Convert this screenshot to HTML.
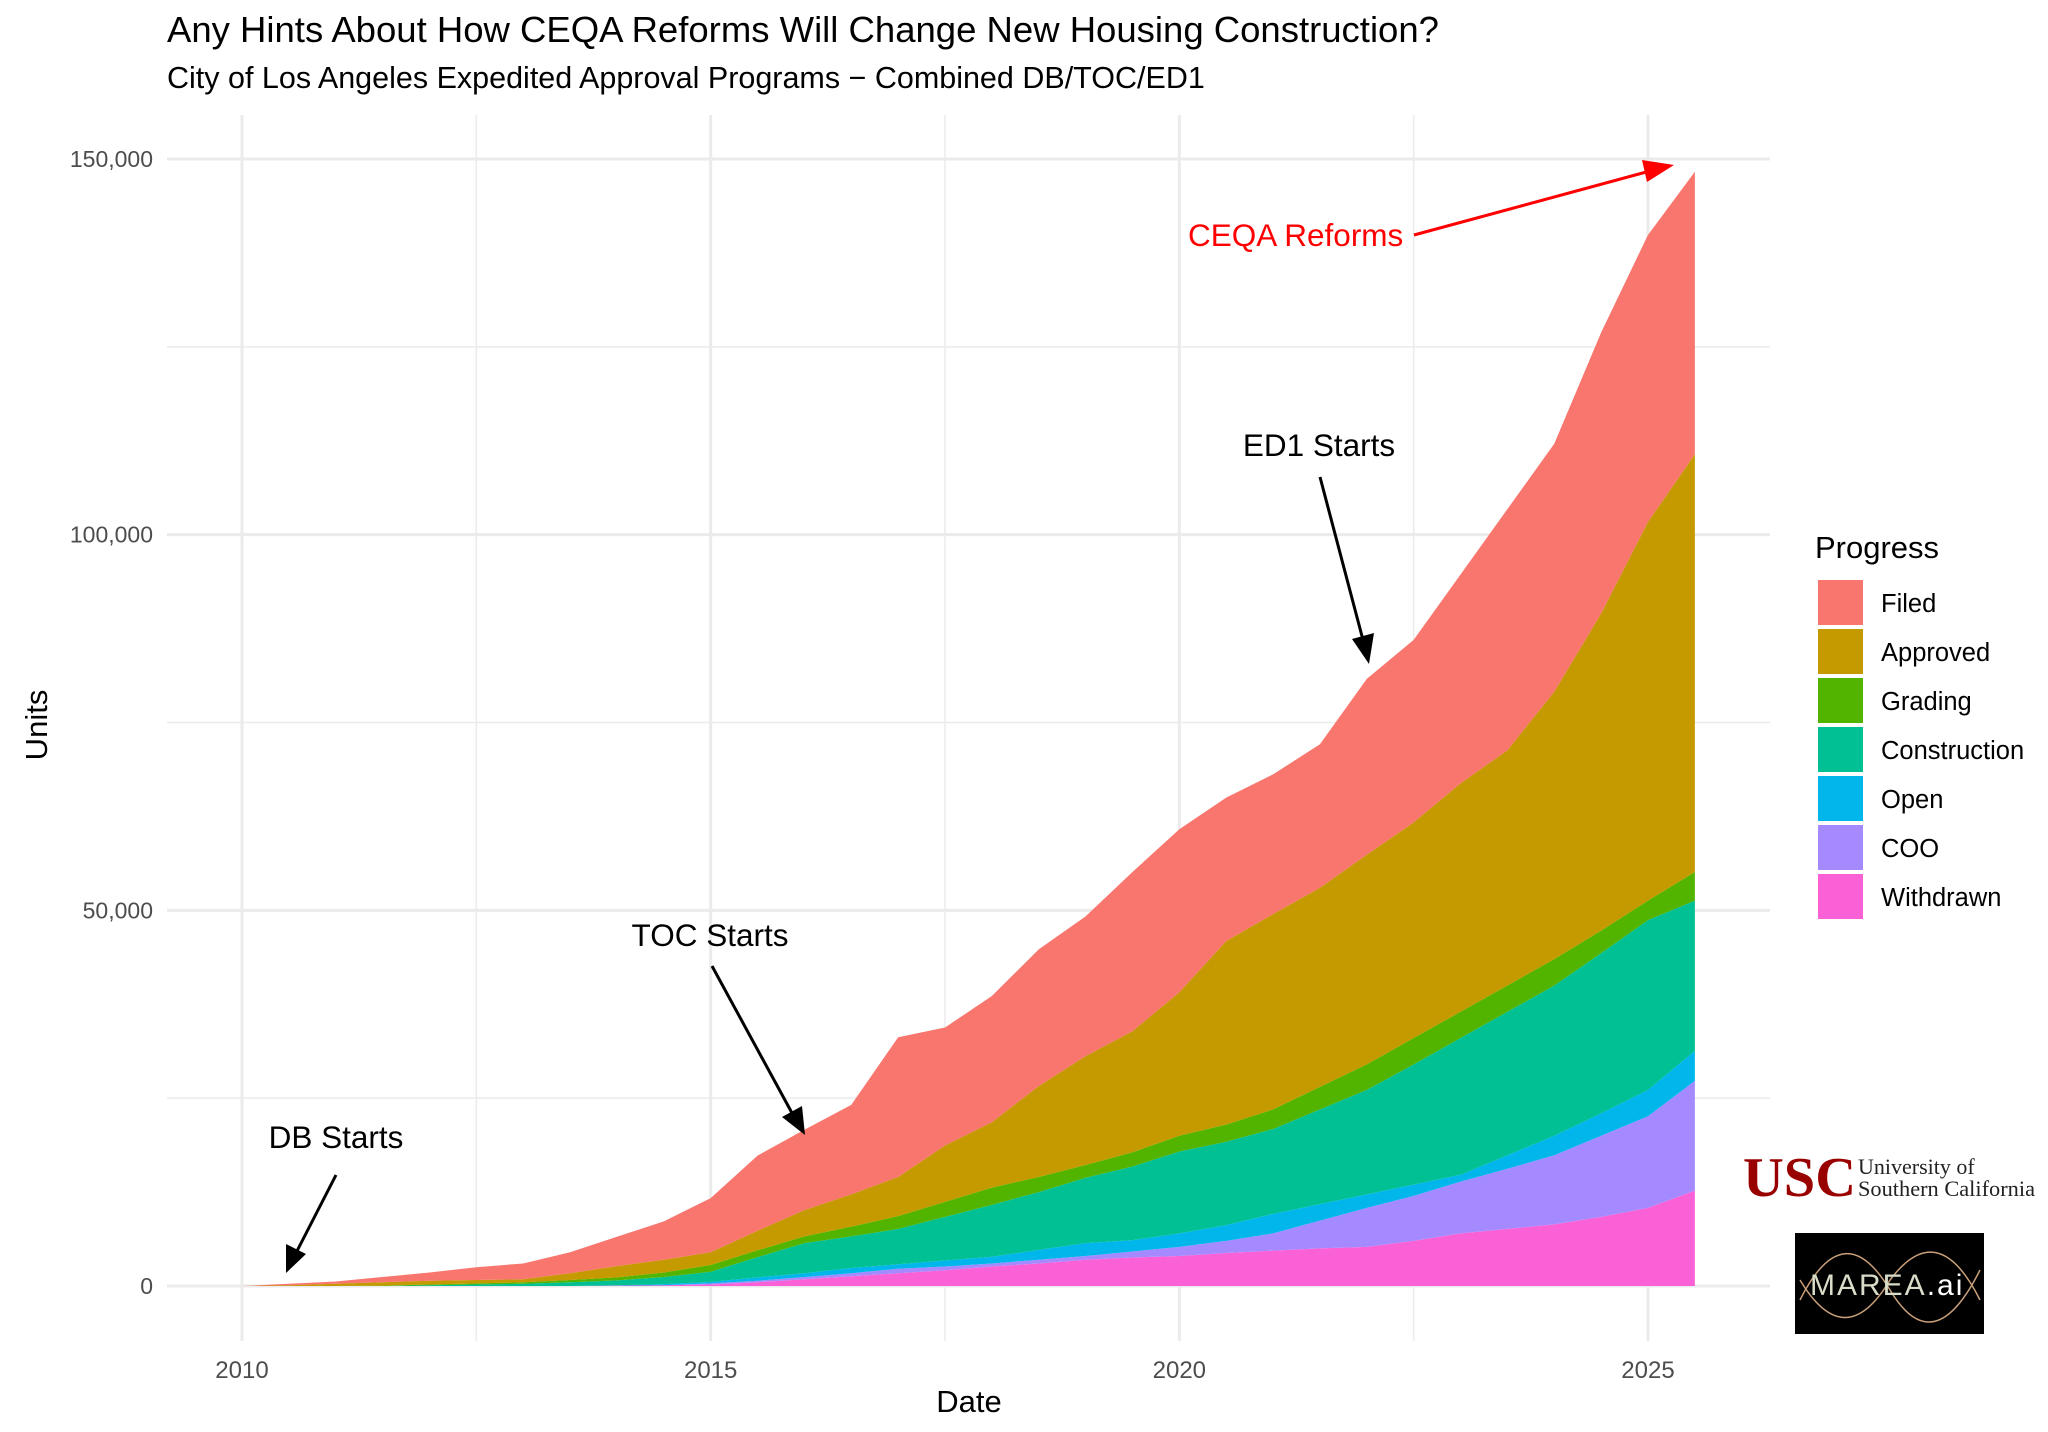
<!DOCTYPE html>
<html><head><meta charset="utf-8"><style>
body{margin:0;background:#fff}
svg text{font-family:"Liberation Sans",Arial,sans-serif}
</style></head><body>
<svg id="chart" width="2048" height="1427" viewBox="0 0 2048 1427" xmlns="http://www.w3.org/2000/svg">
<rect width="2048" height="1427" fill="#fff"/>
<text x="167" y="42" font-size="36.5" fill="#000">Any Hints About How CEQA Reforms Will Change New Housing Construction?</text>
<text x="167" y="88" font-size="30.5" fill="#000">City of Los Angeles Expedited Approval Programs − Combined DB/TOC/ED1</text>
<g id="grid"></g>
<g id="areas"></g>
<g id="axes"></g>
<text x="969" y="1412" font-size="31" text-anchor="middle">Date</text>
<text transform="translate(47,725) rotate(-90)" font-size="31" text-anchor="middle">Units</text>
<g>
<text x="1188" y="246" font-size="31.5" fill="#f00">CEQA Reforms</text>
<line x1="1414" y1="235" x2="1650" y2="171" stroke="#f00" stroke-width="3"/>
<polygon points="1674,165 1647,182 1642,160" fill="#f00"/>
</g>
<g>
<text x="1319" y="456" font-size="31.5" text-anchor="middle">ED1 Starts</text>
<line x1="1320" y1="477" x2="1363" y2="640" stroke="#000" stroke-width="3"/>
<polygon points="1369,664 1352,639 1374,633" fill="#000"/>
</g>
<g>
<text x="710" y="946" font-size="31.5" text-anchor="middle">TOC Starts</text>
<line x1="712" y1="966" x2="792" y2="1113" stroke="#000" stroke-width="3"/>
<polygon points="805,1135 782,1117 802,1106" fill="#000"/>
</g>
<g>
<text x="336" y="1148" font-size="31.5" text-anchor="middle">DB Starts</text>
<line x1="336" y1="1175" x2="297" y2="1251" stroke="#000" stroke-width="3"/>
<polygon points="286,1273 286,1244 306,1254" fill="#000"/>
</g>
<g id="legend">
<text x="1815" y="558" font-size="31">Progress</text>
</g>
<g>
<text x="1743" y="1196" font-size="56" font-weight="bold" fill="#990000" style="font-family:'Liberation Serif',serif" textLength="113" lengthAdjust="spacingAndGlyphs">USC</text>
<text x="1858" y="1174" font-size="22" fill="#222" style="font-family:'Liberation Serif',serif">University of</text>
<text x="1858" y="1196" font-size="22" fill="#222" style="font-family:'Liberation Serif',serif" textLength="177" lengthAdjust="spacingAndGlyphs">Southern California</text>
</g>
<g>
<rect x="1795" y="1233" width="189" height="101" fill="#000"/>
<path d="M1800,1300 C1830,1240 1860,1240 1890,1290 C1920,1340 1950,1330 1980,1270" stroke="#c9a07a" stroke-width="1.5" fill="none"/>
<path d="M1800,1280 C1830,1330 1860,1330 1890,1280 C1920,1240 1950,1240 1980,1300" stroke="#c9a07a" stroke-width="1.5" fill="none"/>
<text x="1810" y="1295" font-size="30" fill="#d8dcc8" letter-spacing="2">MAREA<tspan fill="#fff">.ai</tspan></text>
</g>
</svg>
<script>
const dates = [2010,2010.5,2011,2011.5,2012,2012.5,2013,2013.5,2014,2014.5,2015,2015.5,2016,2016.5,2017,2017.5,2018,2018.5,2019,2019.5,2020,2020.5,2021,2021.5,2022,2022.5,2023,2023.5,2024,2024.5,2025,2025.5];
const seriesNames = ["Withdrawn","COO","Open","Construction","Grading","Approved","Filed"];
const withdrawn = [0,0,0,0,0,0,0,0,0.05,0.1,0.2,0.5,0.9,1.3,1.7,2.1,2.6,3.0,3.5,3.8,4.0,4.4,4.7,5.0,5.2,6.0,7.0,7.6,8.2,9.2,10.4,12.7];
const coo = [0,0,0,0,0,0,0,0,0,0,0.15,0.2,0.3,0.4,0.6,0.5,0.4,0.5,0.5,0.8,1.2,1.6,2.3,3.7,5.2,6.0,6.9,8.0,9.2,10.8,12.2,14.6];
const openUnits = [0,0,0,0,0,0,0,0,0.05,0.15,0.2,0.45,0.5,0.7,0.6,0.8,0.9,1.3,1.7,1.5,1.8,2.1,2.6,2.2,1.8,1.5,0.9,1.8,2.6,3.0,3.5,4.0];
const construction = [0,0,0,0,0.1,0.2,0.3,0.5,0.65,0.95,1.35,2.7,4.0,4.2,4.7,5.8,6.9,7.7,8.7,9.8,10.9,11.1,11.3,12.6,13.9,16.0,18.2,19.1,20.0,21.3,22.6,20.0];
const grading = [0,0,0,0.05,0.1,0.15,0.2,0.3,0.4,0.6,0.9,0.9,0.9,1.3,1.7,2.0,2.3,2.0,1.7,1.9,2.1,2.3,2.6,3.0,3.4,3.5,3.5,3.5,3.5,3.0,2.6,3.8];
const approved = [0,0.1,0.3,0.45,0.5,0.45,0.4,0.9,1.5,1.7,1.7,2.6,3.5,4.3,5.2,7.5,8.7,12.1,14.5,16.1,19.1,24.4,26.0,26.5,27.9,28.7,30.4,31.3,35.6,42.2,50.4,55.6];
const filed = [0,0.2,0.3,0.7,1.1,1.7,2.1,2.8,3.9,5.1,7.2,10.0,10.7,11.9,18.6,15.7,16.8,18.2,18.6,21.2,21.7,19.1,18.6,19.1,23.4,24.3,27.8,32.1,33.0,37.4,38.2,37.6];
const yTicks = [0,50000,100000,150000];
const yTickLabels = ["0","50,000","100,000","150,000"];
const xTicks = [2010,2015,2020,2025];
const legendNames = ["Filed","Approved","Grading","Construction","Open","COO","Withdrawn"];

const colors = {Filed:"#F8766D",Approved:"#C49A00",Grading:"#53B400",Construction:"#00C094",Open:"#00B6EB",COO:"#A58AFF",Withdrawn:"#FB61D7"};
const NS="http://www.w3.org/2000/svg";
const X=d=>242+(d-2010)*(1648-242)/15;
const Y=v=>1286-v*(1286-159)/150000;
const PL=167,PR=1770,PT=115,PB=1341;
function mk(t,a,p){const e=document.createElementNS(NS,t);for(const k in a)e.setAttribute(k,a[k]);p.appendChild(e);return e;}
const grid=document.getElementById('grid');
[25000,75000,125000].forEach(v=>{const l=mk('line',{x1:PL,x2:PR,y1:Y(v),y2:Y(v),stroke:'#ebebeb','stroke-width':1.5},grid);

});
[2012.5,2017.5,2022.5].forEach(v=>{const l=mk('line',{x1:X(v),x2:X(v),y1:PT,y2:PB,stroke:'#ebebeb','stroke-width':1.5},grid);

});
yTicks.forEach(v=>{const l=mk('line',{x1:PL,x2:PR,y1:Y(v),y2:Y(v),stroke:'#ebebeb','stroke-width':3},grid);

});
xTicks.forEach(v=>{const l=mk('line',{x1:X(v),x2:X(v),y1:PT,y2:PB,stroke:'#ebebeb','stroke-width':3},grid);

});
const layers=[withdrawn,coo,openUnits,construction,grading,approved,filed];
const areas=document.getElementById('areas');
let base=dates.map(()=>0);
layers.forEach((arr,i)=>{
  const top=base.map((b,j)=>b+arr[j]*1000);
  let d='M'+dates.map((t,j)=>X(t)+','+Y(top[j])).join(' L');
  for(let j=dates.length-1;j>=0;j--)d+=' L'+X(dates[j])+','+Y(base[j]);
  d+='Z';
  const p=mk('path',{d:d,fill:colors[seriesNames[i]]},areas);
  
  
  base=top;
});
const axes=document.getElementById('axes');
yTicks.forEach((v,i)=>{const t=mk('text',{x:153,y:Y(v)+8,'font-size':23,'text-anchor':'end',fill:'#4d4d4d'},axes);t.textContent=yTickLabels[i];

});
xTicks.forEach(v=>{const t=mk('text',{x:X(v),y:1378,'font-size':24,'text-anchor':'middle',fill:'#4d4d4d'},axes);t.textContent=v;

});
const lg=document.getElementById('legend');
legendNames.forEach((n,i)=>{const y=580+i*49;
const r=mk('rect',{x:1818,y:y,width:45,height:45,fill:colors[n]},lg);


const t=mk('text',{x:1881,y:y+32,'font-size':25.5},lg);t.textContent=n;

});
</script>
</body></html>
